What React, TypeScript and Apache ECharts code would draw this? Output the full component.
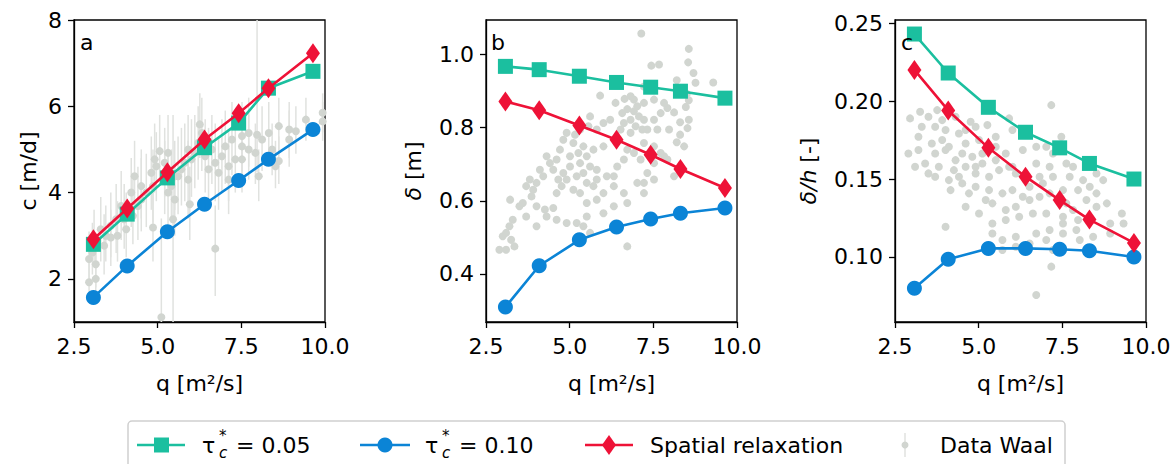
import React, { useEffect, useRef } from "react";
import * as echarts from "echarts";

// ---- model results (x = discharge per unit width q [m2/s]) ----
const qModel = [3.08, 4.09, 5.29, 6.4, 7.42, 8.31, 9.64];
const cTau005 = [2.8, 3.5, 4.34, 5.04, 5.61, 6.42, 6.81];
const cTau010 = [1.57, 2.3, 3.09, 3.73, 4.28, 4.77, 5.46];
const cRelax = [2.92, 3.63, 4.47, 5.23, 5.84, 6.42, 7.23];
const dTau005 = [0.968, 0.959, 0.941, 0.924, 0.911, 0.9, 0.881];
const dTau010 = [0.309, 0.422, 0.493, 0.528, 0.55, 0.566, 0.58];
const dRelax = [0.872, 0.848, 0.806, 0.767, 0.726, 0.687, 0.635];
const rTau005 = [0.243, 0.218, 0.196, 0.18, 0.17, 0.16, 0.15];
const rTau010 = [0.08, 0.0985, 0.1055, 0.1055, 0.105, 0.104, 0.1];
const rRelax = [0.22, 0.194, 0.17, 0.1515, 0.1365, 0.124, 0.109];

// ---- tick labels ----
const xTicks = [2.5, 5.0, 7.5, 10.0];
const cTicks = [2, 4, 6, 8];
const dTicks = [0.4, 0.6, 0.8, 1.0];
const rTicks = [0.1, 0.15, 0.2, 0.25];

// ---- Data Waal: [q, c, low, high] ----
const waalC = [
  [2.95, 2.46, 1.9, 3.1], [2.95, 1.92, 1.5, 2.5], [3.15, 2.0, 1.6, 2.6], [3.15, 2.34, 1.8, 2.9],
  [3.05, 2.61, 2.1, 3.3], [3.45, 3.0, 2.4, 3.7], [3.6, 2.96, 2.3, 3.6], [3.8, 3.0, 2.4, 3.8],
  [4.06, 3.15, 2.5, 4.0], [4.0, 3.38, 2.7, 4.2], [4.26, 3.46, 2.8, 4.3], [4.41, 3.69, 2.9, 4.6],
  [4.51, 3.84, 3.1, 4.8], [4.66, 4.0, 3.2, 4.9], [4.86, 4.15, 3.3, 5.0], [4.81, 4.46, 3.6, 5.3],
  [4.91, 4.77, 4.0, 5.6], [5.06, 4.96, 4.2, 5.8], [4.96, 4.61, 3.8, 5.4], [5.21, 4.3, 3.5, 5.2],
  [5.41, 4.15, 3.3, 5.0], [5.31, 4.0, 3.1, 4.9], [5.51, 3.84, 3.0, 4.7], [5.96, 3.73, 2.9, 4.6],
  [5.46, 3.38, 0.9, 5.8], [4.86, 3.19, 2.4, 4.0], [6.72, 2.7, 1.6, 3.7], [5.51, 4.38, 3.6, 5.2],
  [5.71, 4.54, 3.7, 5.5], [5.81, 4.69, 3.8, 5.6], [6.01, 4.77, 3.9, 5.7], [6.11, 4.92, 4.1, 5.8],
  [6.21, 5.15, 4.3, 6.0], [6.32, 5.38, 4.5, 6.2], [6.26, 5.58, 4.8, 6.3], [5.91, 4.3, 3.4, 5.2],
  [6.52, 4.54, 3.6, 5.5], [6.72, 4.69, 3.8, 5.6], [6.92, 4.84, 4.0, 5.7], [7.02, 5.07, 4.2, 5.9],
  [7.22, 5.23, 4.4, 6.1], [7.52, 5.31, 4.5, 6.1], [7.72, 5.38, 4.6, 6.2], [7.97, 5.34, 4.47, 8.6],
  [8.12, 5.23, 4.5, 6.0], [8.32, 5.38, 4.7, 6.1], [8.62, 5.54, 4.9, 6.2], [8.93, 5.46, 4.8, 6.1],
  [9.13, 5.42, 4.9, 6.0], [9.43, 5.69, 5.2, 6.2], [9.93, 5.65, 5.2, 6.1], [7.92, 4.92, 4.2, 5.6],
  [8.02, 4.38, 3.8, 5.0], [8.52, 4.61, 4.1, 5.2], [8.62, 4.73, 4.2, 5.3], [8.42, 5.0, 4.4, 5.6],
  [7.72, 5.0, 4.3, 5.8], [6.82, 4.46, 3.6, 5.3], [7.12, 4.61, 3.8, 5.4], [7.32, 4.77, 4.0, 5.6],
  [7.52, 5.07, 4.3, 5.9], [6.62, 5.0, 4.2, 5.8], [6.42, 4.84, 4.0, 5.7], [5.21, 4.69, 3.9, 5.5],
  [4.51, 4.15, 3.4, 5.0], [4.21, 4.0, 3.2, 4.8], [4.31, 4.38, 3.6, 5.2], [3.91, 3.69, 2.9, 4.5],
  [3.76, 3.38, 2.6, 4.2], [3.6, 3.23, 2.5, 4.0], [3.3, 3.15, 2.4, 3.9], [3.1, 2.92, 2.3, 3.6],
  [3.4, 2.77, 2.1, 3.5], [5.11, 1.11, 0.9, 3.4], [5.61, 4.38, 3.5, 5.3], [5.31, 4.92, 4.1, 5.8],
  [5.91, 5.0, 4.2, 5.8], [7.12, 4.3, 3.5, 5.1], [7.52, 4.77, 4.0, 5.5], [8.93, 5.23, 4.6, 5.9],
  [9.93, 5.85, 5.4, 6.3],
];

// ---- Data Waal: [q, delta] ----
const waalD = [
  [7.14, 1.058], [8.56, 1.016], [8.54, 0.979], [7.44, 0.97], [7.67, 0.973], [8.7, 0.95], [8.2, 0.93],
  [9.29, 0.924], [8.76, 0.923], [8.5, 0.893], [8.56, 0.875], [7.92, 0.854], [8.47, 0.857], [8.12, 0.842],
  [8.56, 0.822], [8.3, 0.815], [8.52, 0.799], [7.97, 0.795], [8.3, 0.781], [8.2, 0.76], [8.42, 0.749],
  [7.82, 0.722], [8.12, 0.667], [7.52, 0.658], [7.22, 0.649], [5.91, 0.888], [6.64, 0.879], [6.92, 0.877],
  [6.37, 0.868], [6.72, 0.851], [6.57, 0.84], [6.92, 0.845], [7.07, 0.831], [7.22, 0.822], [6.82, 0.822],
  [6.62, 0.813], [6.97, 0.804], [7.17, 0.795], [6.82, 0.786], [6.52, 0.795], [6.21, 0.822], [6.01, 0.813],
  [5.81, 0.795], [5.61, 0.831], [5.56, 0.804], [5.31, 0.795], [5.16, 0.781], [4.91, 0.786], [4.81, 0.767],
  [5.11, 0.758], [5.41, 0.749], [5.26, 0.731], [5.01, 0.722], [4.71, 0.74], [4.61, 0.713], [4.41, 0.703],
  [4.51, 0.685], [4.31, 0.722], [4.11, 0.685], [4.21, 0.667], [4.01, 0.649], [3.91, 0.63], [3.81, 0.658],
  [3.7, 0.64], [3.86, 0.612], [3.6, 0.594], [3.5, 0.585], [3.7, 0.557], [3.3, 0.548], [3.2, 0.53],
  [3.1, 0.512], [3.0, 0.503], [3.25, 0.493], [3.35, 0.475], [3.1, 0.466], [2.9, 0.466], [3.22, 0.603],
  [4.01, 0.585], [4.26, 0.576], [4.51, 0.58], [4.61, 0.621], [4.76, 0.64], [4.91, 0.658], [5.21, 0.667],
  [5.41, 0.676], [5.61, 0.694], [5.81, 0.685], [5.51, 0.649], [5.71, 0.64], [5.81, 0.658], [6.11, 0.667],
  [6.32, 0.667], [6.42, 0.694], [6.62, 0.713], [6.92, 0.731], [7.12, 0.713], [6.72, 0.74], [6.01, 0.749],
  [5.71, 0.74], [5.51, 0.722], [5.31, 0.703], [5.01, 0.694], [4.81, 0.676], [4.66, 0.658], [5.11, 0.63],
  [5.31, 0.621], [5.51, 0.594], [5.81, 0.603], [6.01, 0.621], [6.32, 0.64], [6.62, 0.621], [6.72, 0.594],
  [6.32, 0.585], [6.01, 0.566], [5.51, 0.557], [5.41, 0.53], [5.21, 0.539], [4.91, 0.539], [4.61, 0.548],
  [4.31, 0.557], [4.01, 0.53], [6.72, 0.475], [5.61, 0.512], [7.32, 0.676], [7.02, 0.649], [7.22, 0.621],
  [7.52, 0.703], [7.72, 0.731], [7.92, 0.713], [7.52, 0.749], [7.22, 0.758], [7.32, 0.795], [7.62, 0.795],
  [7.52, 0.822], [7.72, 0.84], [7.82, 0.868], [7.52, 0.877], [7.22, 0.868], [7.02, 0.859], [6.82, 0.886],
  [7.22, 0.913], [7.42, 0.904],
];

// ---- Data Waal: [q, delta/h] ----
const waalR = [
  [7.17, 0.1974], [3.25, 0.1931], [3.76, 0.1942], [2.95, 0.1889], [3.5, 0.1899], [3.91, 0.1878],
  [4.31, 0.1899], [4.76, 0.1867], [5.26, 0.1846], [3.7, 0.1835], [4.01, 0.1814], [4.41, 0.1792],
  [4.91, 0.1835], [3.2, 0.1771], [3.6, 0.1728], [4.11, 0.1707], [4.61, 0.1728], [5.01, 0.175],
  [5.51, 0.1771], [5.91, 0.1889], [6.01, 0.1814], [2.9, 0.1664], [3.2, 0.1686], [3.7, 0.1664],
  [4.01, 0.1686], [4.51, 0.1664], [4.81, 0.1643], [5.11, 0.16], [5.51, 0.1621], [5.81, 0.1664],
  [6.32, 0.1686], [6.72, 0.1707], [7.02, 0.1707], [7.47, 0.1771], [3.1, 0.1579], [3.4, 0.16],
  [3.81, 0.1579], [4.26, 0.1557], [4.61, 0.1579], [4.91, 0.1536], [5.31, 0.1515], [5.61, 0.1557],
  [5.91, 0.1579], [6.11, 0.1536], [6.72, 0.16], [7.12, 0.1579], [7.82, 0.1579], [3.7, 0.1515],
  [4.11, 0.1493], [4.51, 0.1472], [4.91, 0.145], [5.31, 0.1429], [5.71, 0.1408], [6.01, 0.1429],
  [6.52, 0.145], [6.92, 0.1472], [7.22, 0.1515], [7.72, 0.1515], [8.12, 0.1493], [8.52, 0.1536],
  [8.72, 0.1493], [4.16, 0.1429], [4.61, 0.1322], [5.01, 0.1279], [5.41, 0.1344], [5.81, 0.1301],
  [6.11, 0.1322], [6.52, 0.1365], [6.82, 0.1386], [7.12, 0.1408], [7.52, 0.1429], [7.97, 0.1429],
  [8.52, 0.1408], [8.22, 0.1365], [4.01, 0.1194], [5.41, 0.1215], [5.81, 0.1237], [6.21, 0.1258],
  [6.62, 0.1279], [7.02, 0.1279], [7.52, 0.1258], [7.82, 0.1301], [8.52, 0.1322], [9.28, 0.1279],
  [5.41, 0.1151], [5.71, 0.1109], [6.11, 0.113], [6.72, 0.1151], [7.12, 0.1173], [7.52, 0.1215],
  [7.92, 0.1173], [5.71, 0.1045], [6.11, 0.1066], [6.52, 0.1087], [7.02, 0.1109], [8.02, 0.1109],
  [8.42, 0.113], [8.93, 0.1151], [9.33, 0.1215], [7.17, 0.0938], [6.72, 0.0756], [7.62, 0.1344],
  [7.97, 0.1237], [5.51, 0.1707], [5.11, 0.1664], [4.31, 0.1621], [3.5, 0.1536], [3.3, 0.1835],
  [4.61, 0.1814], [7.22, 0.1664], [6.82, 0.1515], [6.32, 0.1386], [5.21, 0.1365], [4.71, 0.1408],
  [4.41, 0.1515], [3.91, 0.175], [6.01, 0.1579], [7.62, 0.16], [8.32, 0.145], [8.83, 0.1344],
  [7.22, 0.1045], [8.32, 0.1237], [4.91, 0.1579], [7.52, 0.1151], [8.93, 0.1215],
];

const seriesNames = ["τc* = 0.05", "τc* = 0.10", "Spatial relaxation", "Data Waal"];

const TEAL = "#1bbf9f";
const BLUE = "#0b84d6";
const RED = "#ee1237";
const GREY = "#d1d5d0";
const BAR = "#e0e2df";
const FONT = "DejaVu Sans";
const FS = 22;

const GRIDS = [
  { left: 74, top: 20, width: 251, height: 302 },
  { left: 486, top: 20, width: 251, height: 302 },
  { left: 895, top: 20, width: 251, height: 302 },
];

function zip(xs: number[], ys: number[]) {
  return xs.map((x, i) => [x, ys[i]]);
}

export default function App() {
  const ref = useRef<HTMLDivElement>(null);
  useEffect(() => {
    if (!ref.current) return;
    const chart = echarts.init(ref.current, null, { renderer: "svg" });

    const xAxisBase = (gi: number) => ({
      type: "value",
      gridIndex: gi,
      min: xTicks[0],
      max: xTicks[xTicks.length - 1],
      interval: 2.5,
      name: "q [m²/s]",
      nameLocation: "middle",
      nameGap: 50,
      nameTextStyle: { fontSize: FS, color: "#000", fontFamily: FONT },
      axisLine: { show: true, lineStyle: { color: "#000", width: 1.3 } },
      axisTick: { show: true, inside: false, length: 6, lineStyle: { color: "#000", width: 1.3 } },
      axisLabel: {
        fontSize: FS,
        color: "#000",
        fontFamily: FONT,
        margin: 13,
        showMinLabel: true,
        showMaxLabel: true,
        formatter: (v: number) => v.toFixed(1),
      },
      splitLine: { show: false },
    });

    const yAxisBase = (gi: number, min: number, max: number, ticks: number[], digits: number, name: string, gap: number) => ({
      type: "value",
      gridIndex: gi,
      min,
      max,
      name,
      nameLocation: "middle",
      nameGap: gap,
      nameRotate: 90,
      nameTextStyle: {
        fontSize: FS,
        color: "#000",
        fontFamily: FONT,
        rich: { i: { fontStyle: "italic", fontSize: FS, color: "#000", fontFamily: FONT } },
      },
      axisLine: { show: true, lineStyle: { color: "#000", width: 1.3 } },
      axisTick: { show: true, inside: false, length: 6, customValues: ticks, lineStyle: { color: "#000", width: 1.3 } },
      axisLabel: {
        fontSize: FS,
        color: "#000",
        fontFamily: FONT,
        margin: 12,
        customValues: ticks,
        formatter: (v: number) => v.toFixed(digits),
      },
      splitLine: { show: false },
    });

    const modelSeries = (gi: number, a: number[], b: number[], c: number[]) => [
      {
        type: "line",
        name: seriesNames[0],
        xAxisIndex: gi,
        yAxisIndex: gi,
        data: zip(qModel, a),
        symbol: "rect",
        symbolSize: 15,
        itemStyle: { color: TEAL },
        lineStyle: { color: TEAL, width: 2.6 },
        z: 4,
      },
      {
        type: "line",
        name: seriesNames[1],
        xAxisIndex: gi,
        yAxisIndex: gi,
        data: zip(qModel, b),
        symbol: "circle",
        symbolSize: 15,
        itemStyle: { color: BLUE },
        lineStyle: { color: BLUE, width: 2.6 },
        z: 5,
      },
      {
        type: "line",
        name: seriesNames[2],
        xAxisIndex: gi,
        yAxisIndex: gi,
        data: zip(qModel, c),
        symbol: "diamond",
        symbolSize: [14, 20],
        itemStyle: { color: RED },
        lineStyle: { color: RED, width: 2.6 },
        z: 6,
      },
    ];

    const scatterSeries = (gi: number, data: number[][]) => ({
      type: "scatter",
      name: seriesNames[3],
      xAxisIndex: gi,
      yAxisIndex: gi,
      data: data.map((d) => [d[0], d[1]]),
      symbol: "circle",
      symbolSize: 8,
      itemStyle: { color: GREY, opacity: 1 },
      z: 2,
      clip: true,
    });

    const errorSeries = {
      type: "custom",
      name: seriesNames[3],
      xAxisIndex: 0,
      yAxisIndex: 0,
      clip: true,
      z: 1,
      encode: { x: 0, y: [1, 2, 3] },
      data: waalC,
      renderItem: (params: any, api: any) => {
        const x = api.value(0);
        const lo = api.coord([x, api.value(2)]);
        const hi = api.coord([x, api.value(3)]);
        return {
          type: "line",
          shape: { x1: lo[0], y1: lo[1], x2: hi[0], y2: hi[1] },
          style: { stroke: BAR, lineWidth: 1.5 },
        };
      },
    };

    const letter = (t: string, x: number) => ({
      type: "text",
      x,
      y: 42,
      z: 10,
      style: { text: t, fontSize: FS, fontFamily: FONT, fill: "#000", verticalAlign: "middle", align: "left" },
    });

    const LY = 445;
    const txt = (x: number, y: number, text: string, size = FS, italic = false) => ({
      type: "text",
      x,
      y,
      z: 22,
      style: {
        text,
        fontSize: size,
        fontStyle: italic ? "italic" : "normal",
        fontFamily: FONT,
        fill: "#000",
        verticalAlign: "middle",
      },
    });
    const legendGraphic = [
      {
        type: "rect",
        shape: { x: 128, y: 421, width: 937, height: 52, r: 4 },
        style: { fill: "#fff", stroke: "#cfcfcf", lineWidth: 1.5 },
        z: 20,
      },
      // item 1
      { type: "line", shape: { x1: 137, y1: LY, x2: 185, y2: LY }, style: { stroke: TEAL, lineWidth: 2.6 }, z: 21 },
      { type: "rect", shape: { x: 154, y: LY - 7.5, width: 15, height: 15 }, style: { fill: TEAL }, z: 22 },
      txt(202, LY, "τ"),
      txt(219, LY - 9, "*", 15),
      txt(219, LY + 8, "c", 15, true),
      txt(236, LY, "= 0.05"),
      // item 2
      { type: "line", shape: { x1: 360, y1: LY, x2: 410, y2: LY }, style: { stroke: BLUE, lineWidth: 2.6 }, z: 21 },
      { type: "circle", shape: { cx: 385, cy: LY, r: 7.5 }, style: { fill: BLUE }, z: 22 },
      txt(425, LY, "τ"),
      txt(442, LY - 9, "*", 15),
      txt(442, LY + 8, "c", 15, true),
      txt(459, LY, "= 0.10"),
      // item 3
      { type: "line", shape: { x1: 585, y1: LY, x2: 633, y2: LY }, style: { stroke: RED, lineWidth: 2.6 }, z: 21 },
      {
        type: "polygon",
        shape: { points: [[609, LY - 10], [616, LY], [609, LY + 10], [602, LY]] },
        style: { fill: RED },
        z: 22,
      },
      txt(650, LY, seriesNames[2]),
      // item 4
      { type: "line", shape: { x1: 905, y1: LY - 12, x2: 905, y2: LY + 12 }, style: { stroke: BAR, lineWidth: 1.5 }, z: 21 },
      { type: "circle", shape: { cx: 905, cy: LY, r: 3.5 }, style: { fill: GREY }, z: 22 },
      txt(940, LY, seriesNames[3]),
    ];

    chart.setOption({
      animation: false,
      textStyle: { fontFamily: FONT },
      grid: GRIDS.map((g) => ({ ...g, show: true, borderColor: "#000", borderWidth: 1.3, backgroundColor: "transparent" })),
      xAxis: [xAxisBase(0), xAxisBase(1), xAxisBase(2)],
      yAxis: [
        yAxisBase(0, 1, 8, cTicks, 0, "c [m/d]", 35),
        yAxisBase(1, 0.268, 1.095, dTicks, 1, "{i|δ} [m]", 62),
        yAxisBase(2, 0.0583, 0.252, rTicks, 2, "{i|δ/h} [-]", 76),
      ],
      series: [
        errorSeries,
        scatterSeries(0, waalC),
        scatterSeries(1, waalD),
        scatterSeries(2, waalR),
        ...modelSeries(0, cTau005, cTau010, cRelax),
        ...modelSeries(1, dTau005, dTau010, dRelax),
        ...modelSeries(2, rTau005, rTau010, rRelax),
      ],
      graphic: [letter("a", 80), letter("b", 491), letter("c", 901), ...legendGraphic],
    });
    return () => chart.dispose();
  }, []);

  return (
    <div
      ref={ref}
      style={{ position: "fixed", left: 0, top: 0, width: 1174, height: 464, background: "#fff" }}
    />
  );
}
